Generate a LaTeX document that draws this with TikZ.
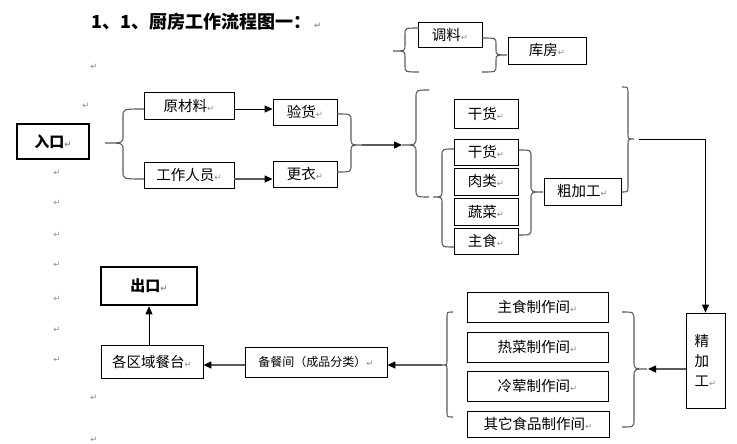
\documentclass[tikz,border=0pt]{standalone}
\usepackage{fontspec}
\setmainfont{Noto Sans CJK SC}
\newfontfamily\dejavu{DejaVu Sans}
\usetikzlibrary{arrows.meta}
\definecolor{brc}{HTML}{5A5A5A}
\definecolor{retc}{HTML}{8A8A8A}
\newcommand\ret{{\color{retc}\dejavu\fontsize{8.5}{8.5}\selectfont ↵}}
% ex, vx, tx, top, ty, bot, r
\newcommand\mybrace[7]{%
  \draw[bracestyle] (#1,#4) .. controls (#2,#4) .. (#2,{#4+#7}) -- (#2,{#5-#7})
    .. controls (#2,#5) .. (#3,#5) .. controls (#2,#5) .. (#2,{#5+#7})
    -- (#2,{#6-#7}) .. controls (#2,#6) .. (#1,#6);}
\begin{document}
\begin{tikzpicture}[x=1pt,y=-1pt,
  box/.style={draw, line width=0.8pt, inner sep=0pt, font=\fontsize{14.5}{16}\selectfont},
  thickbox/.style={draw, line width=2.6pt, inner sep=0pt, font=\fontsize{15}{16}\selectfont\bfseries},
  bracestyle/.style={draw=brc, line width=1.1pt},
  arr/.style={draw=black, line width=0.8pt, -{Triangle[length=8pt,width=7pt]}},
  arrg/.style={draw=brc, line width=1.3pt, -{Triangle[length=8pt,width=7pt,fill=black,color=black]}},
  retnode/.style={inner sep=0pt}]
\useasboundingbox (0,0) rectangle (737,444);

% title
\node[anchor=base west, inner sep=0pt] (title) at (91,29) {\fontsize{18}{18}\selectfont\bfseries 1、1、厨房工作流程图一：\,\ret};

% stray paragraph marks
\foreach \n/\x/\y in {r1/94/67, r2/86/106, r3/57/173, r4/57/203, r5/57/235, r6/57/265, r7/57/299, r8/57/330, r9/57/360, r10/94/398, r11/94/440}
  \node[retnode] (\n) at (\x,\y) {\ret};

% boxes
\node[thickbox, minimum width=72pt, minimum height=35pt] (rk) at (53,141.5) {入口\ret};
\node[thickbox, minimum width=96pt, minimum height=38pt] (ck) at (149,286) {出口\ret};
\node[box, minimum width=90pt, minimum height=27pt] (ycl) at (189,105.5) {原材料\ret};
\node[box, minimum width=64pt, minimum height=26pt] (ysh) at (305,112) {验货\ret};
\node[box, minimum width=90pt, minimum height=26pt] (gz) at (189,175) {工作人员\ret};
\node[box, minimum width=64pt, minimum height=26pt] (gy) at (305,174) {更衣\ret};
\node[box, minimum width=64pt, minimum height=25pt] (tl) at (450,34.5) {调料\ret};
\node[box, minimum width=78pt, minimum height=27pt] (kf) at (547,50.5) {库房\ret};
\node[box, minimum width=64pt, minimum height=29pt] (gh1) at (486,113.5) {干货\ret};
\node[box, minimum width=64pt, minimum height=26pt] (gh2) at (486,152) {干货\ret};
\node[box, minimum width=64pt, minimum height=27pt] (rl) at (486,181.5) {肉类\ret};
\node[box, minimum width=64pt, minimum height=27pt] (sc) at (486,211.5) {蔬菜\ret};
\node[box, minimum width=64pt, minimum height=26pt] (zs) at (486,241) {主食\ret};
\node[box, minimum width=77pt, minimum height=27pt] (cjg) at (582.5,191.5) {粗加工\ret};
\node[box, minimum width=39pt, minimum height=95pt, align=left, font=\fontsize{14.5}{20}\selectfont] (jjg) at (705.5,360.5) {精\\加\\工\ret};
\node[box, minimum width=141pt, minimum height=30pt] (zszz) at (537.5,307) {主食制作间\ret};
\node[box, minimum width=141pt, minimum height=30pt] (rczz) at (537.5,347) {热菜制作间\ret};
\node[box, minimum width=141pt, minimum height=30pt] (lhzz) at (537.5,386) {冷荤制作间\ret};
\node[box, minimum width=142pt, minimum height=26pt] (qtzz) at (538,424) {其它食品制作间\ret};
\node[box, minimum width=142pt, minimum height=30pt, font=\fontsize{12}{14}\selectfont] (bcj) at (316,362) {备餐间（成品分类）\ret};
\node[box, minimum width=102pt, minimum height=33pt] (gq) at (152,361.5) {各区域餐台\ret};

% braces
\mybrace{144}{123}{105}{109}{143}{179}{7}
\mybrace{337}{351}{362}{114}{145}{172}{7}
\mybrace{429}{416}{402}{90}{145}{197}{8}
\mybrace{454}{442}{433}{149}{197}{247}{7}
\mybrace{519}{531}{543}{150}{192}{235}{7}
\mybrace{622}{628}{634}{87}{139}{192}{6}
\mybrace{419}{405}{393}{28}{51}{72}{6}
\mybrace{482}{496}{507}{38}{55}{72}{6}
\mybrace{622}{634}{647}{312}{369}{427}{8}
\mybrace{453}{447}{442}{312}{365}{417}{5}

\coordinate (b2) at (362,145);
\coordinate (b3) at (402,145);
\coordinate (b5) at (639,139);
\coordinate (b8) at (648,369);
\coordinate (b9) at (442,365);

% connectors
\draw[arr] (ycl.east |- 0,109) -- (ysh.west |- 0,109);
\draw[arrg] (gz.east |- 0,179) -- (gy.west |- 0,179);
\draw[arrg] (b2) -- (b3);
\draw[arr] (b5) -| (jjg.north);
\draw[arrg] (jjg.west |- b8) -- (b8);
\draw[arrg] (b9) -- (bcj.east |- b9);
\draw[arrg] (bcj.west |- 0,365) -- (gq.east |- 0,365);
\draw[arr] (gq.north -| ck.south) -- (ck.south);
\end{tikzpicture}
\end{document}
